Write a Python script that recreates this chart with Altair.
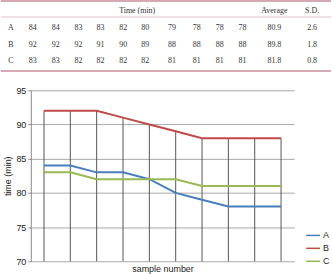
import altair as alt
import pandas as pd

# ---- data ----
samples = list(range(1, 11))
names = ["A", "B", "C"]
series_a = [84, 84, 83, 83, 82, 80, 79, 78, 78, 78]
series_b = [92, 92, 92, 91, 90, 89, 88, 88, 88, 88]
series_c = [83, 83, 82, 82, 82, 82, 81, 81, 81, 81]
averages = ["80.9", "89.8", "81.8"]
sds = ["2.6", "1.8", "0.8"]
header_labels = {"time": "Time (min)", "avg": "Average", "sd": "S.D."}
y_ticks = [70, 75, 80, 85, 90, 95]

# ---- line chart data ----
long_rows = []
for name, vals in zip(names, [series_a, series_b, series_c]):
    for s, v in zip(samples, vals):
        long_rows.append({"sample": s, "series": name, "time": v})
long_df = pd.DataFrame(long_rows)
drop_df = pd.DataFrame({"sample": samples, "top": series_b})

# ---- table data ----
value_cols = [f"v{i}" for i in samples]
col_keys = ["name"] + value_cols + ["time", "avg", "sd"]
row_keys = ["hdr", "A", "B", "C"]
# table layout (pixel columns / rows of the table grid)
col_pos = [-20, 2, 25, 48, 70, 93, 115, 142, 167, 190, 213, 107, 245, 283]
row_pos = [10, 27, 44, 61]

cells = []
for key, txt in header_labels.items():
    cells.append({"col": key, "row": "hdr", "txt": txt})
for i, (name, vals) in enumerate(zip(names, [series_a, series_b, series_c])):
    cells.append({"col": "name", "row": name, "txt": name})
    for c, v in zip(value_cols, vals):
        cells.append({"col": c, "row": name, "txt": str(v)})
    cells.append({"col": "avg", "row": name, "txt": averages[i]})
    cells.append({"col": "sd", "row": name, "txt": sds[i]})
cells_df = pd.DataFrame(cells)
cells_df["ci"] = cells_df["col"].map(col_keys.index)
cells_df["ri"] = cells_df["row"].map(row_keys.index)

table_text = alt.Chart(cells_df).mark_text(
    font="Liberation Serif", fontSize=8, color="#333333", baseline="middle"
).encode(
    x=alt.X("ci:Q", scale=alt.Scale(domain=list(range(len(col_keys))), range=col_pos,
                                    nice=False, zero=False), axis=None),
    y=alt.Y("ri:Q", scale=alt.Scale(domain=list(range(len(row_keys))), range=row_pos,
                                    nice=False, zero=False), axis=None),
    text="txt:N",
)

rule_color = "#d6aab4"
top_rule = alt.Chart(cells_df).mark_rule(color=rule_color, strokeWidth=1).encode(
    x=alt.value(-30), x2=alt.value(302), y=alt.value(0.5)
)
hdr_rule = alt.Chart(cells_df).mark_rule(color="#f0dfe3", strokeWidth=1).encode(
    x=alt.value(-30), x2=alt.value(302), y=alt.value(16.5)
)
bot_rule = alt.Chart(cells_df).mark_rule(color=rule_color, strokeWidth=1).encode(
    x=alt.value(-30), x2=alt.value(302), y=alt.value(70.5)
)

table = alt.layer(top_rule, hdr_rule, bot_rule, table_text).properties(
    width=265, height=90
)

# ---- line chart ----
x_enc = alt.X(
    "sample:O",
    scale=alt.Scale(type="point", padding=0.5),
    axis=alt.Axis(
        title="sample number", labels=False, ticks=False, domain=False, grid=False,
        titleFont="Liberation Sans", titleFontSize=9, titleFontWeight="normal",
        titleColor="#222222", titlePadding=3,
    ),
)
y_scale = alt.Scale(domain=[70, 95], nice=False, zero=False)
y_axis = alt.Axis(
    title="time (min)", values=y_ticks, grid=True, gridColor="#a8a8a8",
    gridWidth=1, domainColor="#888888", tickColor="#888888", tickSize=3,
    labelPadding=2, labelFont="Liberation Sans", labelFontSize=9,
    labelColor="#222222", titleFont="Liberation Sans", titleFontSize=9,
    titleFontWeight="normal", titleColor="#222222", titlePadding=3,
)

drops = alt.Chart(drop_df).mark_rule(color="#555555", strokeWidth=1).encode(
    x=x_enc,
    y=alt.Y("top:Q", scale=y_scale, axis=y_axis),
    y2=alt.datum(70),
)

lines = alt.Chart(long_df).mark_line(strokeWidth=2).encode(
    x=x_enc,
    y=alt.Y("time:Q", scale=y_scale, axis=y_axis),
    color=alt.Color(
        "series:N",
        scale=alt.Scale(domain=names, range=["#4a7ebb", "#be4b48", "#98b954"]),
        legend=alt.Legend(
            title=None, orient="none", legendX=276, legendY=228,
            symbolType="stroke", symbolSize=196, symbolStrokeWidth=1.5,
            labelFont="Liberation Sans", labelFontSize=9, labelColor="#222222",
            rowPadding=0, labelOffset=2,
        ),
    ),
)

chart_area = alt.layer(drops, lines).properties(width=265, height=172)

chart = alt.vconcat(table, chart_area, spacing=0, bounds="flush").properties(
    padding=0
).configure_view(stroke=None)

chart.save("out.html", embed_options={"renderer": "svg", "actions": False})
